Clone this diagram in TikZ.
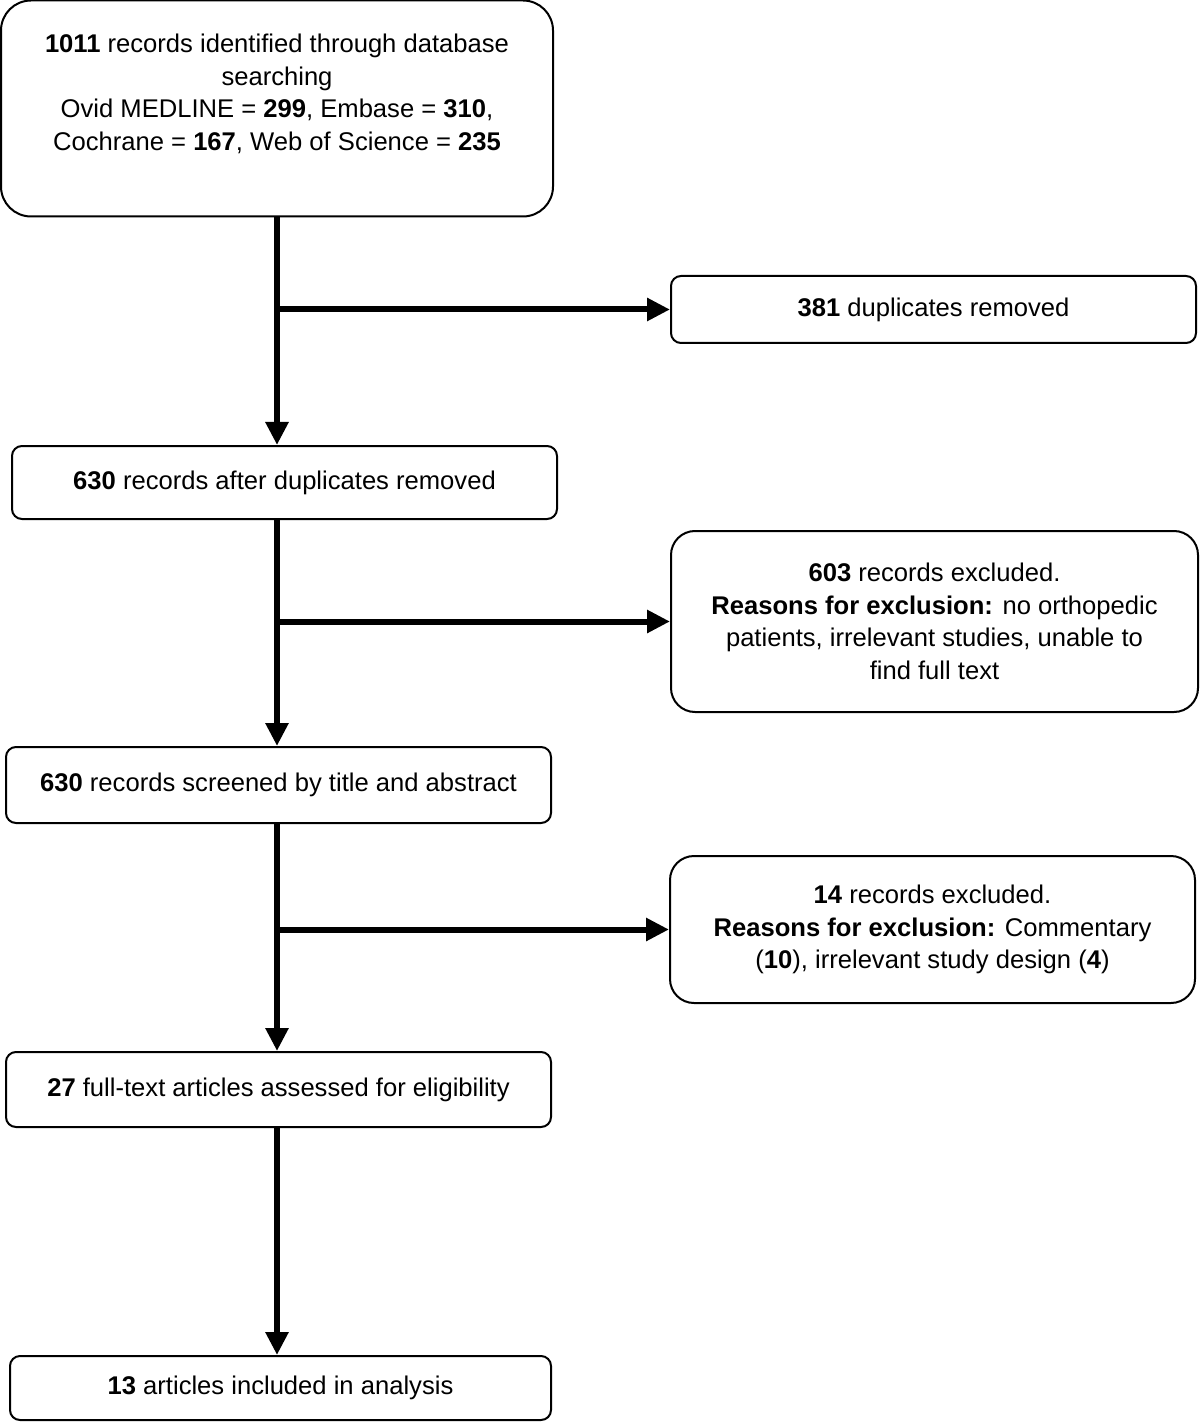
\documentclass[tikz,border=0pt]{standalone}
\usepackage{fontspec}
\setmainfont{Liberation Sans}
\usetikzlibrary{arrows.meta}
\tikzset{
  box/.style={draw, line width=1pt, rounded corners=5pt, align=center, inner sep=0pt, font=\fontsize{12.8}{16.3}\selectfont},
  bigbox/.style={box, rounded corners=15pt},
  sidebox/.style={box, rounded corners=12pt},
  flow/.style={line width=3pt, -{Triangle[length=11.5pt,width=11pt]}},
}
\begin{document}
\begin{tikzpicture}[x=0.5pt, y=-0.5pt]
  \useasboundingbox (0,0) rectangle (1200,1422);
  % main column
  \node[bigbox, minimum width=276pt, minimum height=108pt] (search) at (277,108.5)
    {\textbf{1011} records identified through database\\ searching\\
     Ovid MEDLINE = \textbf{299}, Embase = \textbf{310},\\
     Cochrane = \textbf{167}, Web of Science = \textbf{235}\\ \mbox{}};
  \node[box, minimum width=272.5pt, minimum height=36.5pt] (after) at (284.5,482.5)
    {\textbf{630} records after duplicates removed};
  \node[box, minimum width=272.5pt, minimum height=38pt] (screened) at (278.5,785)
    {\textbf{630} records screened by title and abstract};
  \node[box, minimum width=272.5pt, minimum height=37.5pt] (fulltext) at (278.5,1089.5)
    {\textbf{27} full-text articles assessed for eligibility};
  \node[box, minimum width=270.5pt, minimum height=32pt] (included) at (280.5,1388)
    {\textbf{13} articles included in analysis};
  % side boxes
  \node[box, minimum width=262.5pt, minimum height=33.5pt] (dup) at (933.5,309.5)
    {\textbf{381} duplicates removed};
  \node[sidebox, minimum width=263.5pt, minimum height=90.5pt] (excl1) at (934.5,621.5)
    {\textbf{603} records excluded.\\
     \textbf{Reasons for exclusion:} no orthopedic\\
     patients, irrelevant studies, unable to\\ find full text};
  \node[sidebox, minimum width=262.5pt, minimum height=73.5pt] (excl2) at (932.5,929.5)
    {\textbf{14} records excluded.\\
     \textbf{Reasons for exclusion:} Commentary\\
     (\textbf{10}), irrelevant study design (\textbf{4})};
  % arrows
  \coordinate (trunk) at (search.south);
  \draw[flow] (trunk) -- (trunk |- after.north);
  \draw[flow] (after.south -| trunk) -- (trunk |- screened.north);
  \draw[flow] (screened.south -| trunk) -- (trunk |- fulltext.north);
  \draw[flow] (fulltext.south -| trunk) -- (trunk |- included.north);
  \draw[flow] (trunk |- dup.west) -- (dup.west);
  \draw[flow] (trunk |- excl1.west) -- (excl1.west);
  \draw[flow] (trunk |- excl2.west) -- (excl2.west);
\end{tikzpicture}
\end{document}
